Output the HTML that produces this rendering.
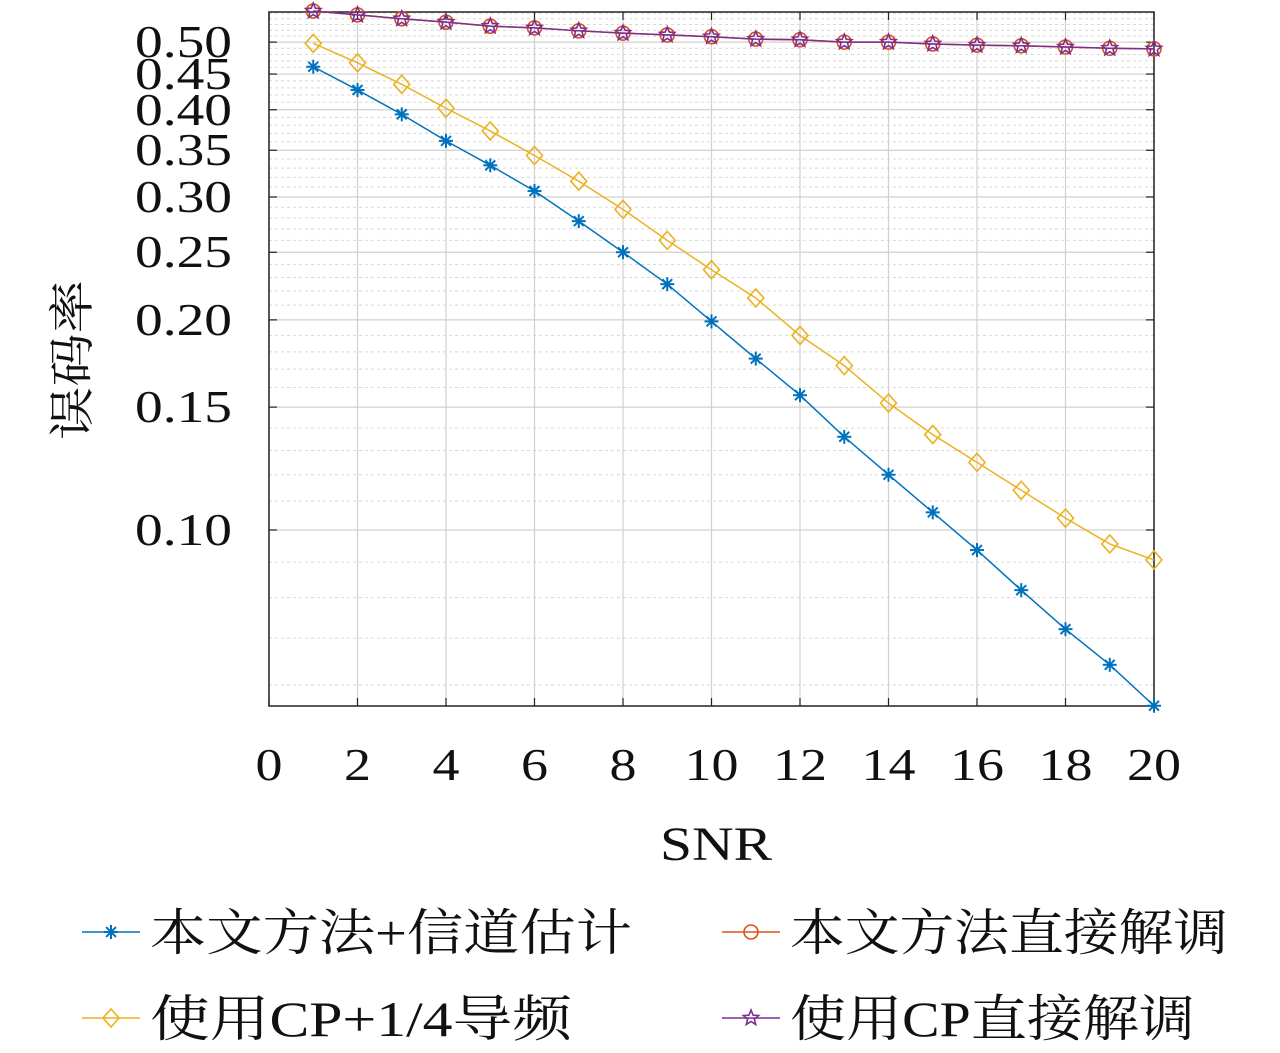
<!DOCTYPE html>
<html><head><meta charset="utf-8">
<style>
html,body{margin:0;padding:0;background:#fff;}
svg{display:block;}
text{font-family:"Liberation Serif","Noto Serif CJK SC",serif;fill:#111;}
.cjk{font-family:"Liberation Serif","Noto Serif CJK SC","Noto Sans CJK SC",serif;}
</style></head>
<body>
<svg id="chart" width="1280" height="1053" viewBox="0 0 1280 1053" xmlns="http://www.w3.org/2000/svg"></svg>
<script>
const snr = [1,2,3,4,5,6,7,8,9,10,11,12,13,14,15,16,17,18,19,20];
const berProposedEst = [0.461,0.427,0.394,0.361,0.333,0.306,0.277,0.250,0.225,0.199,0.176,0.156,0.136,0.120,0.106,0.0936,0.0820,0.0721,0.0641,0.0560];
const berCpPilot = [0.498,0.467,0.435,0.402,0.373,0.344,0.316,0.288,0.260,0.236,0.215,0.190,0.172,0.152,0.137,0.125,0.114,0.104,0.0955,0.0906];
const berProposedDirect = [0.554,0.547,0.540,0.534,0.527,0.524,0.519,0.515,0.512,0.509,0.505,0.504,0.500,0.500,0.497,0.495,0.494,0.492,0.490,0.489];
const berCpDirect = [0.554,0.547,0.540,0.534,0.527,0.524,0.519,0.515,0.512,0.509,0.505,0.504,0.500,0.500,0.497,0.495,0.494,0.492,0.490,0.489];
const xTicks = [0,2,4,6,8,10,12,14,16,18,20];
const yTicks = [0.10,0.15,0.20,0.25,0.30,0.35,0.40,0.45,0.50];
const yTickLabels = ["0.10","0.15","0.20","0.25","0.30","0.35","0.40","0.45","0.50"];
const yMinor = [0.06,0.07,0.08,0.09,0.11,0.12,0.13,0.14,0.16,0.17,0.18,0.19,0.21,0.22,0.23,0.24,0.26,0.27,0.28,0.29,0.31,0.32,0.33,0.34,0.36,0.37,0.38,0.39,0.41,0.42,0.43,0.44,0.46,0.47,0.48,0.49,0.51,0.52,0.53,0.54,0.55];

const L=269,R=1154,T=12,B=706;
const X = v => L + (v-0)/(20-0)*(R-L);
const Y = v => 530 - Math.log10(v/0.1)*698;
const svg=document.getElementById('chart');
const NS='http://www.w3.org/2000/svg';
function mk(tag,attrs,parent){const e=document.createElementNS(NS,tag);for(const k in attrs)e.setAttribute(k,attrs[k]);(parent||svg).appendChild(e);return e;}

const grid=mk('g',{});


yMinor.forEach(v=>{const y=Y(v);if(y<T||y>B)return;mk('line',{x1:L,x2:R,y1:y,y2:y,stroke:'#d8d8d8','stroke-width':1,'stroke-dasharray':'3,3'},grid);});
yTicks.forEach(v=>{const y=Y(v);mk('line',{x1:L,x2:R,y1:y,y2:y,stroke:'#d0d0d0','stroke-width':1.2},grid);});
xTicks.forEach(v=>{const x=X(v);mk('line',{x1:x,x2:x,y1:T,y2:B,stroke:'#d0d0d0','stroke-width':1.2},grid);});

const axes=mk('g',{});


mk('rect',{x:L,y:T,width:R-L,height:B-T,fill:'none',stroke:'#222','stroke-width':1.5},axes);
xTicks.forEach(v=>{const x=X(v);
 mk('line',{x1:x,x2:x,y1:B,y2:B-8,stroke:'#222','stroke-width':1.2},axes);
 mk('line',{x1:x,x2:x,y1:T,y2:T+8,stroke:'#222','stroke-width':1.2},axes);
 const s=String(v);
 const t=mk('text',{x:x,y:780,'font-size':46,'text-anchor':'middle',textLength:s.length*27,lengthAdjust:'spacingAndGlyphs'},axes);t.textContent=s;
 
 
});
yTicks.forEach((v,i)=>{const y=Y(v);
 mk('line',{x1:L,x2:L+8,y1:y,y2:y,stroke:'#222','stroke-width':1.2},axes);
 mk('line',{x1:R,x2:R-8,y1:y,y2:y,stroke:'#222','stroke-width':1.2},axes);
 const t=mk('text',{x:232,y:y+15,'font-size':46,'text-anchor':'end',textLength:97,lengthAdjust:'spacingAndGlyphs'},axes);t.textContent=yTickLabels[i];
 
 
});
const xt=mk('text',{x:716,y:860,'font-size':48,'text-anchor':'middle',textLength:112,lengthAdjust:'spacingAndGlyphs'});xt.textContent='SNR';


const yt=mk('text',{x:0,y:0,'font-size':46,'text-anchor':'middle',class:'cjk',transform:'translate(88,360) rotate(-90)',textLength:160,lengthAdjust:'spacingAndGlyphs'});yt.textContent='误码率';



function marker(g,type,x,y,color){
 if(type==='star'){
  for(let a=0;a<180;a+=45){const r=a*Math.PI/180;mk('line',{x1:x-7*Math.cos(r),y1:y-7*Math.sin(r),x2:x+7*Math.cos(r),y2:y+7*Math.sin(r),stroke:color,'stroke-width':2},g);}
 } else if(type==='diamond'){
  mk('polygon',{points:`${x},${y-9} ${x+8},${y} ${x},${y+9} ${x-8},${y}`,fill:'none',stroke:color,'stroke-width':1.6},g);
 } else if(type==='circle'){
  mk('circle',{cx:x,cy:y,r:7,fill:'none',stroke:color,'stroke-width':1.6},g);
 } else if(type==='pent'){
  let p=[];for(let i=0;i<10;i++){const r=(i%2?3.5:8);const a=-Math.PI/2+i*Math.PI/5;p.push((x+r*Math.cos(a))+','+(y+r*Math.sin(a)));}
  mk('polygon',{points:p.join(' '),fill:'none',stroke:color,'stroke-width':1.6},g);
 }
}
const series=[
 {name:'series-proposed-channel-est',data:berProposedEst,color:'#0072bd',m:'star'},
 {name:'series-cp-pilot',data:berCpPilot,color:'#edb120',m:'diamond'},
 {name:'series-proposed-direct',data:berProposedDirect,color:'#d95319',m:'circle'},
 {name:'series-cp-direct',data:berCpDirect,color:'#7e2f8e',m:'pent'}
];
series.forEach(s=>{
 const g=mk('g',{});
 
 
 mk('polyline',{points:snr.map((v,i)=>X(v)+','+Y(s.data[i])).join(' '),fill:'none',stroke:s.color,'stroke-width':1.5},g);
 snr.forEach((v,i)=>marker(g,s.m,X(v),Y(s.data[i]),s.color));
});

const legend=[
 {label:'本文方法+信道估计',color:'#0072bd',m:'star',x:82,y:932,w:482},
 {label:'本文方法直接解调',color:'#d95319',m:'circle',x:722,y:932,w:438},
 {label:'使用CP+1/4导频',color:'#edb120',m:'diamond',x:82,y:1018,w:422},
 {label:'使用CP直接解调',color:'#7e2f8e',m:'pent',x:722,y:1018,w:405}
];
legend.forEach(l=>{
 const g=mk('g',{});
 
 
 mk('line',{x1:l.x,x2:l.x+58,y1:l.y,y2:l.y,stroke:l.color,'stroke-width':1.5},g);
 marker(g,l.m,l.x+29,l.y,l.color);
 const t=mk('text',{x:l.x+68,y:l.y+18,'font-size':50,class:'cjk',textLength:l.w,lengthAdjust:'spacingAndGlyphs'},g);t.textContent=l.label;
});
</script>
</body></html>
